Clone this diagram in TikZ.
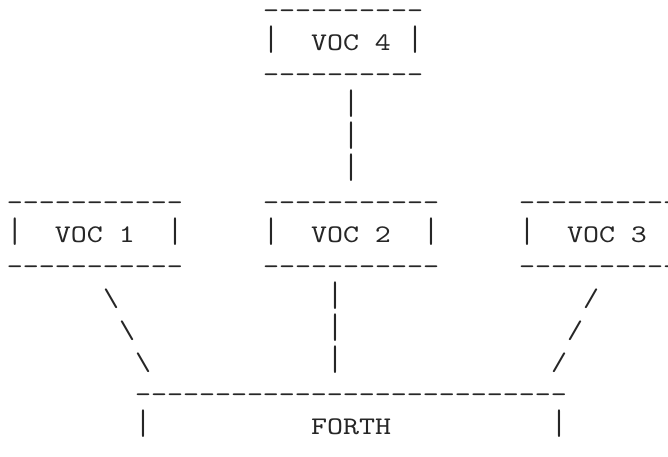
\documentclass[tikz,border=0pt]{standalone}
\usepackage{fontspec}
\newfontfamily\courlike[FakeStretch=1.203, Ligatures=TeXOff, Numbers=Lining]{lmmono10-regular.otf}
\tikzset{asc/.style={font=\courlike\fontsize{19}{23}\selectfont, inner sep=0pt, outer sep=0pt, anchor=base west, text=black!85}}
\newcommand\asc[4]{\node[asc] (#1) at ({7+16*#2},{18.7+32*#3}) {#4};}
\newcommand\vbar{\scalebox{1}[1.4]{|}}
\begin{document}
\begin{tikzpicture}[x=0.75pt,y=-0.75pt]
\clip (0,0) rectangle (668,457);
\fill[white] (0,0) rectangle (668,457);
% VOC 4
\asc{v4top}{16}{0}{----------}
\asc{v4l}{16}{1}{\vbar}
\asc{v4t}{19}{1}{VOC 4}
\asc{v4r}{25}{1}{\vbar}
\asc{v4bot}{16}{2}{----------}
\asc{c4a}{21}{3}{\vbar}
\asc{c4b}{21}{4}{\vbar}
\asc{c4c}{21}{5}{\vbar}
% VOC 1,2,3
\asc{v1top}{0}{6}{-----------}
\asc{v2top}{16}{6}{-----------}
\asc{v3top}{32}{6}{-----------}
\asc{v1l}{0}{7}{\vbar}
\asc{v1t}{3}{7}{VOC 1}
\asc{v1r}{10}{7}{\vbar}
\asc{v2l}{16}{7}{\vbar}
\asc{v2t}{19}{7}{VOC 2}
\asc{v2r}{26}{7}{\vbar}
\asc{v3l}{32}{7}{\vbar}
\asc{v3t}{35}{7}{VOC 3}
\asc{v1bot}{0}{8}{-----------}
\asc{v2bot}{16}{8}{-----------}
\asc{v3bot}{32}{8}{-----------}
% connectors
\asc{c1a}{6}{9}{\textbackslash}
\asc{c1b}{7}{10}{\textbackslash}
\asc{c1c}{8}{11}{\textbackslash}
\asc{c2a}{20}{9}{\vbar}
\asc{c2b}{20}{10}{\vbar}
\asc{c2c}{20}{11}{\vbar}
\asc{c3a}{36}{9}{/}
\asc{c3b}{35}{10}{/}
\asc{c3c}{34}{11}{/}
% FORTH
\asc{ftop}{8}{12}{---------------------------}
\asc{fl}{8}{13}{\vbar}
\asc{ft}{19}{13}{FORTH}
\asc{fr}{34}{13}{\vbar}
\end{tikzpicture}
\end{document}
